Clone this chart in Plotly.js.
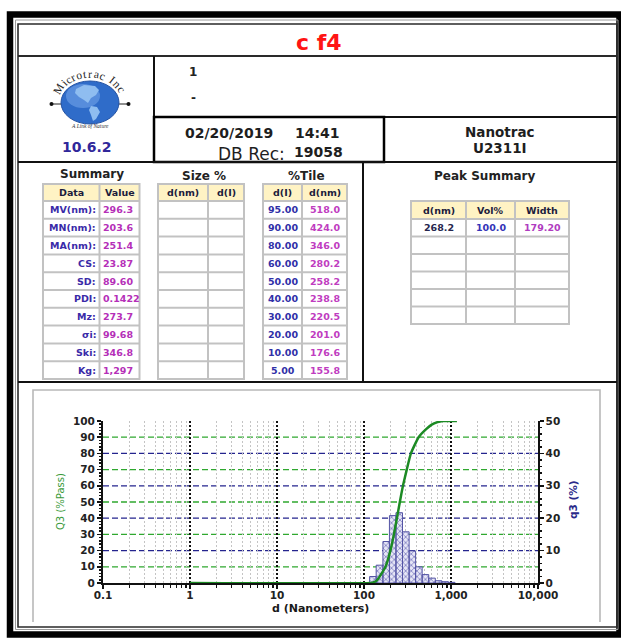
<!DOCTYPE html>
<html><head><meta charset="utf-8">
<script src="https://cdn.plot.ly/plotly-3.0.1.min.js"></script>
<style>html,body{margin:0;padding:0;background:#fff;overflow:hidden}#chart{width:621px;height:638px}</style>
</head><body><div id="chart"></div>
<script>
// ---------------- data ----------------
const reportTitle = 'c f4';
const versionText = '10.6.2';
const sampleLines = ['1', '-'];
const dateText = '02/20/2019';
const timeText = '14:41';
const dbRecLabel = 'DB Rec:';
const dbRecValue = '19058';
const instrumentLines = ['Nanotrac', 'U2311I'];

const summaryHeaders = ['Data', 'Value'];
const summaryLabels = ['MV(nm):', 'MN(nm):', 'MA(nm):', 'CS:', 'SD:', 'PDI:', 'Mz:', 'σi:', 'Ski:', 'Kg:'];
const summaryValues = ['296.3', '203.6', '251.4', '23.87', '89.60', '0.1422', '273.7', '99.68', '346.8', '1,297'];

const sizeHeaders = ['d(nm)', 'd(I)'];
const sizeDiameter = ['', '', '', '', '', '', '', '', '', ''];
const sizePercent = ['', '', '', '', '', '', '', '', '', ''];

const tileHeaders = ['d(I)', 'd(nm)'];
const tilePercent = ['95.00', '90.00', '80.00', '60.00', '50.00', '40.00', '30.00', '20.00', '10.00', '5.00'];
const tileDiameter = ['518.0', '424.0', '346.0', '280.2', '258.2', '238.8', '220.5', '201.0', '176.6', '155.8'];

const peakHeaders = ['d(nm)', 'Vol%', 'Width'];
const peakDiameter = ['268.2', '', '', '', '', ''];
const peakVolume = ['100.0', '', '', '', '', ''];
const peakWidth = ['179.20', '', '', '', '', ''];

// histogram channels: edges (nm) and q3 (%) per channel
const channelEdges = [116, 138, 165, 196, 233, 277, 330, 392, 466, 555, 660, 785, 934, 1111];
const q3Values = [2.0, 5.5, 12.8, 20.8, 21.7, 15.8, 9.9, 5.0, 2.6, 1.5, 0.7, 0.4, 0.2];

// cumulative Q3 (%pass) curve
const cumDiameter = [1, 120, 130, 140, 155.8, 176.6, 201.0, 220.5, 238.8, 258.2, 280.2, 310, 346.0, 424.0, 518.0, 600, 700, 800, 1000, 1170];
const cumPass = [0, 0, 0.5, 1.5, 5, 10, 20, 30, 40, 50, 60, 70, 80, 90, 95, 97.8, 99.3, 100, 100, 100];

const xTickVals = [0.1, 1, 10, 100, 1000, 10000];
const xTickText = ['0.1', '1', '10', '100', '1,000', '10,000'];
const q3GridVals = [10, 20, 30, 40];
const passGridVals = [10, 30, 50, 70, 90];
const leftTitle = 'Q3 (%Pass)';
const rightTitle = 'q3 (%)';
const xTitle = 'd (Nanometers)';

// ---------------- helpers ----------------
const W = 621, H = 638;
const X = v => v / W;
const Y = v => 1 - v / H;
const shapes = [];
const ann = [];
function rect(x0, y0, x1, y1, opt) {
  shapes.push(Object.assign({type: 'rect', xref: 'paper', yref: 'paper', x0: X(x0), x1: X(x1), y0: Y(y1), y1: Y(y0)}, opt));
}
function line(x0, y0, x1, y1, color, width) {
  shapes.push({type: 'line', xref: 'paper', yref: 'paper', x0: X(x0), y0: Y(y0), x1: X(x1), y1: Y(y1), line: {color: color, width: width}});
}
function path(pts, opt, open) {
  const d = pts.map((p, i) => (i ? 'L' : 'M') + X(p[0]).toFixed(5) + ',' + Y(p[1]).toFixed(5)).join(' ') + (open ? '' : ' Z');
  shapes.push(Object.assign({type: 'path', xref: 'paper', yref: 'paper', path: d}, opt));
}
function text(t, x, y, font, extra) {
  ann.push(Object.assign({text: t, x: X(x), y: Y(y), xref: 'paper', yref: 'paper', showarrow: false,
    xanchor: 'center', yanchor: 'middle', font: font}, extra || {}));
}
const DJ = 'DejaVu Sans';

// ---------------- frame ----------------
rect(10, 14.5, 619.5, 634.5, {line: {color: '#000', width: 6.5}});
rect(15.5, 20, 618, 629.5, {line: {color: '#9a9a9a', width: 1}});
rect(18, 24, 617, 627, {line: {color: '#2a2a2a', width: 1.6}});
line(18, 56, 617, 56, '#2a2a2a', 2);
line(154, 56, 154, 162, '#111', 2);
line(154, 117, 617, 117, '#111', 2);
rect(154, 117, 384, 162, {line: {color: '#000', width: 2.5}});
line(18, 162, 617, 162, '#111', 2);
line(363, 162, 363, 382, '#111', 2);
line(18, 382, 617, 382, '#111', 2.2);
path([[33, 622], [33, 390], [600, 390], [600, 622]], {line: {color: '#b8b8b8', width: 1.6}}, true); // chart panel

// ---------------- header texts ----------------
text('<b>' + reportTitle + '</b>', 319, 43, {family: DJ, size: 22, color: '#ff1414'});
text('<b>' + sampleLines[0] + '</b>', 193, 72, {family: DJ, size: 12, color: '#222'});
text('<b>' + sampleLines[1] + '</b>', 193, 98, {family: DJ, size: 12, color: '#222'});
text('<b>' + dateText + '</b>', 229.5, 133, {family: DJ, size: 14, color: '#1e1e1e'});
text('<b>' + timeText + '</b>', 317, 133, {family: DJ, size: 14, color: '#1e1e1e'});
text(dbRecLabel, 251, 154, {family: DJ, size: 17, color: '#1e1e1e'});
text('<b>' + dbRecValue + '</b>', 318, 152, {family: DJ, size: 14, color: '#1e1e1e'});
text('<b>' + instrumentLines[0] + '</b>', 500, 132, {family: DJ, size: 13.5, color: '#1e1e1e'});
text('<b>' + instrumentLines[1] + '</b>', 500, 148, {family: DJ, size: 13.5, color: '#1e1e1e'});
text('<b>' + versionText + '</b>', 87, 147, {family: DJ, size: 14, color: '#30279a'});

// ---------------- logo ----------------
line(51.5, 104, 62, 104, '#222', 1);
line(118, 104, 128, 104, '#222', 1);
shapes.push({type: 'circle', xref: 'paper', yref: 'paper', x0: X(49.5), x1: X(53.5), y0: Y(106), y1: Y(102), fillcolor: '#111', line: {width: 0}});
shapes.push({type: 'circle', xref: 'paper', yref: 'paper', x0: X(126.5), x1: X(130.5), y0: Y(106), y1: Y(102), fillcolor: '#111', line: {width: 0}});
shapes.push({type: 'circle', xref: 'paper', yref: 'paper', x0: X(61), x1: X(119), y0: Y(124), y1: Y(81), fillcolor: '#2f6cc9', line: {color: '#2352a3', width: 1}});
shapes.push({type: 'circle', xref: 'paper', yref: 'paper', x0: X(66), x1: X(100), y0: Y(108), y1: Y(84), fillcolor: 'rgba(120,170,235,0.55)', line: {width: 0}});
path([[76, 89], [84, 85], [95, 86], [99, 90], [96, 95], [91, 98], [88, 103], [84, 100], [79, 97], [75, 93]], {fillcolor: '#8fbdf0', line: {width: 0}});
path([[91, 106], [97, 107], [100, 112], [96, 119], [93, 121], [91, 115], [89, 110]], {fillcolor: '#8fbdf0', line: {width: 0}});
(function () {
  const logoText = 'Microtrac Inc';
  const cw = {M: .89, i: .28, c: .44, r: .33, o: .5, t: .28, a: .44, ' ': .3, I: .33, n: .5};
  let total = 0;
  for (const ch of logoText) total += cw[ch] || .5;
  let acc = 0;
  const p0 = -72, p1 = 66;
  for (const ch of logoText) {
    const w = cw[ch] || .5;
    const mid = acc + w / 2;
    acc += w;
    const phi = p0 + (p1 - p0) * mid / total;
    const r = phi * Math.PI / 180;
    if (ch !== ' ') text(ch, 90 + 36 * Math.sin(r), 104 - 30 * Math.cos(r),
      {family: 'Liberation Serif', size: 11.5, color: '#262626'}, {textangle: phi});
  }
})();
text('<i>A Link of Nature</i>', 90, 126, {family: 'Liberation Serif', size: 5.5, color: '#333'});

// ---------------- tables ----------------
const hdrFont = {family: DJ, size: 9.5, color: '#1c1c3c', weight: 'bold'};
function drawTable(cols, top, headerH, rowH, headers, columns, aligns, colors) {
  const nRows = columns[0].length;
  const left = cols[0], right = cols[cols.length - 1];
  const bottom = top + headerH + rowH * nRows;
  rect(left - 1, top - 1, right + 1, bottom + 1, {fillcolor: '#c2c2c2', line: {width: 0}});
  for (let c = 0; c < cols.length - 1; c++) {
    const x0 = cols[c] + 1, x1 = cols[c + 1] - 1;
    rect(x0, top + 1, x1, top + headerH - 1, {fillcolor: '#fff3c4', line: {width: 0}});
    text(headers[c], (x0 + x1) / 2, top + headerH / 2, hdrFont);
    for (let r = 0; r < nRows; r++) {
      const y0 = top + headerH + r * rowH + 1, y1 = top + headerH + (r + 1) * rowH - 1;
      rect(x0, y0, x1, y1, {fillcolor: '#ffffff', line: {width: 0}});
      const v = columns[c][r];
      if (v) {
        const f = {family: DJ, size: 9.5, color: colors[c], weight: 'bold'};
        const a = aligns[c];
        const xx = a === 'right' ? x1 - 1 : a === 'left' ? x0 + 0.5 : (x0 + x1) / 2;
        text(v, xx, (y0 + y1) / 2, f, {xanchor: a});
      }
    }
  }
}
drawTable([43, 99.5, 139.5], 184, 17, 17.8, summaryHeaders, [summaryLabels, summaryValues], ['right', 'left'], ['#3a2aa8', '#b52fb8']);
drawTable([158, 208, 244], 184, 17, 17.8, sizeHeaders, [sizeDiameter, sizePercent], ['center', 'center'], ['#3a2aa8', '#b52fb8']);
drawTable([263, 302, 347], 184, 17, 17.8, tileHeaders, [tilePercent, tileDiameter], ['center', 'center'], ['#3030a8', '#c03cc0']);
drawTable([411, 466, 515, 569], 201, 18, 17.5, peakHeaders, [peakDiameter, peakVolume, peakWidth], ['center', 'center', 'center'], ['#26264e', '#3434b8', '#b03cc0']);

const secFont = {family: DJ, size: 12, color: '#222', weight: 'bold'};
text('Summary', 92, 174, secFont);
text('Size %', 204, 176, secFont);
text('%Tile', 306, 176, secFont);
text('Peak Summary', 484, 176, secFont);

// ---------------- chart ----------------
text(leftTitle, 60, 502, {family: DJ, size: 10, color: '#3a9a3a'}, {textangle: -90});
text('<b>' + rightTitle + '</b>', 573, 500, {family: DJ, size: 10.5, color: '#2a2a8a'}, {textangle: -90});
text('<b>' + xTitle + '</b>', 320, 608, {family: DJ, size: 11, color: '#1a1a1a'});

const minorX = [];
for (let e = -1; e < 4; e++) for (let k = 2; k <= 9; k++) minorX.push(k * Math.pow(10, e));

const hx = [], hy = [];
for (let i = 0; i < q3Values.length; i++) {
  const a = channelEdges[i], b = channelEdges[i + 1], v = q3Values[i];
  hx.push(a, a, b, b, a, null);
  hy.push(0, v, v, 0, 0, null);
}

// horizontal dashed grid lines, drawn on the data axes (below traces)
q3GridVals.forEach(v => shapes.push({type: 'line', xref: 'x domain', yref: 'y', x0: 0, x1: 1, y0: v, y1: v,
  layer: 'below', line: {color: '#24248e', width: 1.3, dash: '6px,3px'}}));
passGridVals.forEach(v => shapes.push({type: 'line', xref: 'x domain', yref: 'y2', x0: 0, x1: 1, y0: v, y1: v,
  layer: 'below', line: {color: '#2fa82f', width: 1.3, dash: '6px,3px'}}));

const traces = [
  {type: 'scatter', mode: 'lines', x: hx, y: hy, xaxis: 'x', yaxis: 'y', fill: 'toself',
   fillcolor: '#dcdcf0', fillpattern: {shape: 'x', size: 4, solidity: 0.35, fgcolor: '#7a7ac0', bgcolor: '#e6e6f6'},
   line: {color: '#5454a4', width: 1}, connectgaps: false, hoverinfo: 'skip'},
  {type: 'scatter', mode: 'lines', x: cumDiameter, y: cumPass, xaxis: 'x', yaxis: 'y2',
   line: {color: '#1c8a24', width: 2.5, shape: 'spline', smoothing: 0.4}, hoverinfo: 'skip'}
];

const tickFont = {family: DJ, size: 10.5, color: '#222', weight: 'bold'};
const layout = {
  width: W, height: H, margin: {l: 0, r: 0, t: 0, b: 0},
  paper_bgcolor: '#fff', plot_bgcolor: 'rgba(0,0,0,0)', showlegend: false,
  shapes: shapes, annotations: ann,
  xaxis: {
    type: 'log', range: [-1, 4], domain: [X(103), X(538)], anchor: 'y',
    tickmode: 'array', tickvals: xTickVals, ticktext: xTickText,
    ticks: 'outside', ticklen: 4, tickwidth: 1.5, tickcolor: '#111', ticklabelstandoff: -3,
    showline: true, linecolor: '#111', linewidth: 2, zeroline: false,
    showgrid: true, gridcolor: '#111', griddash: '2px,2px', gridwidth: 2,
    minor: {tickmode: 'array', tickvals: minorX, ticks: 'outside', ticklen: 3, tickwidth: 1.2, tickcolor: '#111',
            showgrid: true, gridcolor: '#c4c4c4', griddash: '2px,2px', gridwidth: 1},
    tickfont: tickFont, layer: 'below traces', fixedrange: true
  },
  yaxis: {
    domain: [Y(583), Y(421)], range: [0, 50], side: 'right', anchor: 'x',
    tickmode: 'linear', tick0: 0, dtick: 10, ticks: 'outside', ticklen: 4, tickwidth: 1.5, tickcolor: '#111',
    minor: {dtick: 2, ticks: 'outside', ticklen: 2.5, tickcolor: '#111', showgrid: false},
    showline: true, linecolor: '#111', linewidth: 1.5, zeroline: false, showgrid: false,
    tickfont: tickFont, layer: 'below traces', fixedrange: true
  },
  yaxis2: {
    overlaying: 'y', side: 'left', anchor: 'x', range: [0, 100],
    tickmode: 'linear', tick0: 0, dtick: 10, ticks: 'outside', ticklen: 4, tickwidth: 1.5, tickcolor: '#111',
    minor: {dtick: 2, ticks: 'outside', ticklen: 2.5, tickcolor: '#111', showgrid: false},
    showline: true, linecolor: '#111', linewidth: 2, zeroline: false, showgrid: false,
    tickfont: tickFont, layer: 'below traces', fixedrange: true
  }
};

Plotly.newPlot('chart', traces, layout, {displayModeBar: false, staticPlot: true});
</script>
</body></html>
